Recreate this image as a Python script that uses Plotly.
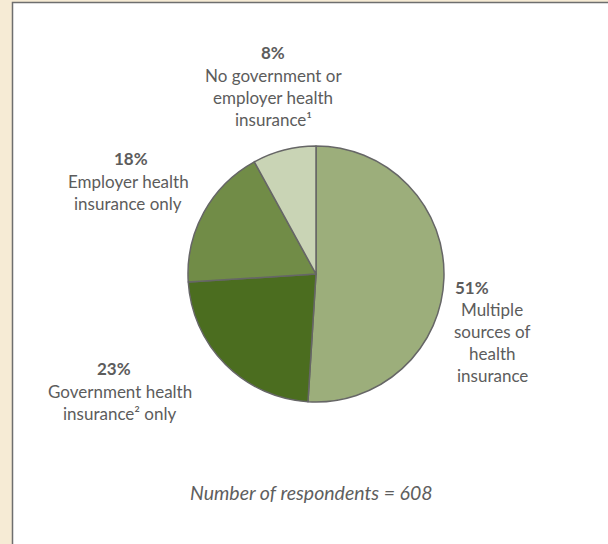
import plotly.graph_objects as go

# Health insurance coverage of respondents
categories = [
    "Multiple sources of health insurance",
    "Government health insurance² only",
    "Employer health insurance only",
    "No government or employer health insurance¹",
]
shares = [51, 23, 18, 8]
label_lines = [
    ["Multiple", "sources of", "health", "insurance"],
    ["Government health", "insurance² only"],
    ["Employer health", "insurance only"],
    ["No government or", "employer health", "insurance¹"],
]
slice_colors = ["#9cae7b", "#4b6d1f", "#718c47", "#c9d4b5"]
respondents = 608

W, H = 608, 544


def px(x, y):
    return x / W, 1 - y / H


# pie placement in pixels: centre and radius
cx, cy, r = 316, 274, 128

fig = go.Figure()
fig.add_trace(go.Pie(
    labels=categories,
    values=shares,
    sort=False,
    direction="clockwise",
    rotation=0,
    marker=dict(colors=slice_colors, line=dict(color="#666666", width=1.5)),
    textinfo="none",
    hoverinfo="label+percent",
    showlegend=False,
    domain=dict(x=[(cx - r) / W, (cx + r) / W], y=[1 - (cy + r) / H, 1 - (cy - r) / H]),
))

# label anchors (percent centre x, percent y, description centre x, first line y)
anchors = [
    (472, 287, 492, 309),
    (114, 368, 120, 391),
    (131, 158, 128, 181),
    (273, 52, 273, 75),
]
line_h = 22.3
text_color = "#5c5c5c"
label_font = dict(size=17, color=text_color, family="Lato")
annotations = []
for share, lines, (pxx, pyy, dx, dy) in zip(shares, label_lines, anchors):
    ax, ay = px(pxx, pyy)
    annotations.append(dict(
        x=ax, y=ay, xref="paper", yref="paper", showarrow=False,
        text=f"<b>{share}%</b>", font=label_font,
        xanchor="center", yanchor="middle",
    ))
    for i, line in enumerate(lines):
        lx, ly = px(dx, dy + i * line_h)
        annotations.append(dict(
            x=lx, y=ly, xref="paper", yref="paper", showarrow=False,
            text=line, font=label_font,
            xanchor="center", yanchor="middle",
        ))

fx, fy = px(311, 492)
annotations.append(dict(
    x=fx, y=fy, xref="paper", yref="paper", showarrow=False,
    text=f"<i>Number of respondents = {respondents}</i>",
    font=dict(size=19.5, color="#5e5e5e", family="Lato"),
    xanchor="center", yanchor="middle",
))

x0, y0 = px(12.5, 2.5)
fig.update_layout(
    width=W, height=H,
    margin=dict(l=0, r=0, t=0, b=0),
    paper_bgcolor="#f6ebd5",
    plot_bgcolor="#f6ebd5",
    shapes=[dict(
        type="rect", xref="paper", yref="paper",
        x0=x0, x1=1.02, y0=-0.02, y1=y0,
        fillcolor="white", line=dict(color="#6e6e6e", width=1.5),
        layer="below",
    )],
    annotations=annotations,
)

fig.write_html("out.html")
